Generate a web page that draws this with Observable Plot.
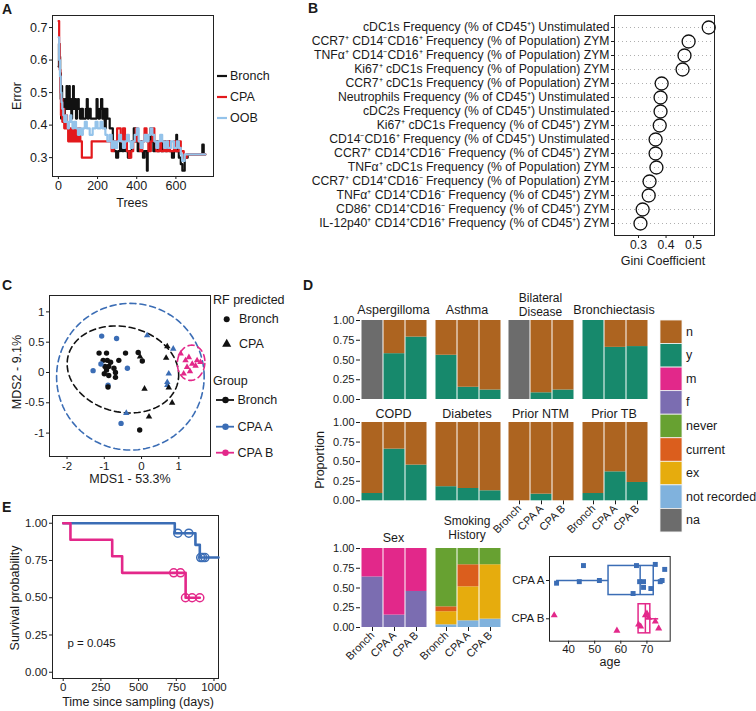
<!DOCTYPE html>
<html><head><meta charset="utf-8">
<script src="https://cdn.jsdelivr.net/npm/d3@7"></script>
<script src="https://cdn.jsdelivr.net/npm/@observablehq/plot@0.6"></script>
<style>
body{margin:0;background:#fff;}
#root{position:relative;width:756px;height:711px;overflow:hidden;background:#fff;font-family:"Liberation Sans",Arial,sans-serif;}
</style></head><body><div id="root"></div>
<script>
// ---------------- DATA ----------------
// Panel A: RF error rate vs number of trees (step breakpoints)
const treesBronch = [1,3,6,9,12,14,16,19,22,26,30,33,38,42,46,50,55,58,62,66,70,75,79,84,90,95,100,104,110,118,125,140,145,150,155,165,195,200,205,212,218,224,230,236,242,250,262,278,285,295,305,315,325,335,345,355,365,375,385,395,405,415,425,432,440,452,456,462,470,478,485,495,505,515,525,535,545,555,565,580,590,602,606,615,625,633,645,660,735,742,750];
const errBronch   = [0.58,0.65,0.61,0.56,0.48,0.42,0.52,0.45,0.48,0.45,0.42,0.48,0.45,0.52,0.45,0.48,0.52,0.45,0.48,0.42,0.45,0.52,0.45,0.48,0.42,0.45,0.48,0.45,0.42,0.45,0.42,0.45,0.48,0.42,0.45,0.42,0.48,0.45,0.42,0.45,0.48,0.42,0.45,0.39,0.45,0.42,0.39,0.35,0.32,0.30,0.32,0.35,0.32,0.35,0.32,0.30,0.32,0.35,0.39,0.35,0.32,0.35,0.32,0.30,0.32,0.26,0.32,0.35,0.39,0.35,0.32,0.35,0.32,0.35,0.32,0.35,0.32,0.35,0.32,0.30,0.32,0.37,0.32,0.30,0.28,0.26,0.30,0.31,0.34,0.31,0.31];
const treesCPA = [1,4,7,10,13,17,20,25,30,38,44,50,56,62,70,78,88,95,105,112,120,170,260,272,282,300,318,330,340,350,360,372,382,395,405,418,428,440,450,460,472,480,490,500,515,525,540,550,560,570,590,600,615,625,640,655,750];
const errCPA   = [0.72,0.65,0.57,0.50,0.43,0.48,0.41,0.45,0.39,0.43,0.39,0.35,0.39,0.35,0.39,0.35,0.39,0.35,0.39,0.35,0.30,0.35,0.35,0.32,0.35,0.39,0.35,0.39,0.35,0.32,0.30,0.32,0.35,0.39,0.35,0.32,0.35,0.39,0.35,0.32,0.35,0.39,0.35,0.32,0.35,0.32,0.35,0.32,0.35,0.32,0.35,0.32,0.35,0.32,0.30,0.31,0.31];
const treesOOB = [1,4,8,12,16,20,25,30,36,42,48,54,60,66,72,80,90,100,108,118,125,135,145,160,175,190,200,215,225,240,250,262,272,280,290,300,310,320,330,340,350,360,370,380,390,400,410,420,430,440,450,460,470,480,490,500,510,520,530,540,550,560,575,590,605,615,625,632,645,750];
const errOOB   = [0.67,0.60,0.55,0.50,0.47,0.45,0.43,0.41,0.43,0.41,0.39,0.41,0.43,0.41,0.39,0.41,0.39,0.37,0.39,0.37,0.39,0.41,0.39,0.37,0.39,0.41,0.39,0.41,0.39,0.37,0.35,0.37,0.33,0.35,0.33,0.35,0.37,0.35,0.33,0.35,0.37,0.35,0.33,0.35,0.37,0.39,0.35,0.33,0.35,0.37,0.35,0.37,0.39,0.37,0.35,0.33,0.35,0.37,0.35,0.33,0.35,0.33,0.35,0.33,0.35,0.33,0.31,0.29,0.31,0.31];
const errSeries = ["Bronch","CPA","OOB"];
const errColors = ["#111111","#e3191c","#94c3ea"];

// Panel B: Gini importance
const giniFeatures = [
"cDC1s Frequency (% of CD45⁺) Unstimulated",
"CCR7⁺ CD14⁻CD16⁺ Frequency (% of Population) ZYM",
"TNFα⁺ CD14⁻CD16⁺ Frequency (% of Population) ZYM",
"Ki67⁺ cDC1s Frequency (% of Population) ZYM",
"CCR7⁺ cDC1s Frequency (% of Population) ZYM",
"Neutrophils Frequency (% of CD45⁺) Unstimulated",
"cDC2s Frequency (% of CD45⁺) Unstimulated",
"Ki67⁺ cDC1s Frequency (% of CD45⁺) ZYM",
"CD14⁻CD16⁺ Frequency (% of CD45⁺) Unstimulated",
"CCR7⁺ CD14⁺CD16⁻ Frequency (% of CD45⁺) ZYM",
"TNFα⁺ cDC1s Frequency (% of Population) ZYM",
"CCR7⁺ CD14⁺CD16⁻ Frequency (% of Population) ZYM",
"TNFα⁺ CD14⁺CD16⁻ Frequency (% of CD45⁺) ZYM",
"CD86⁺ CD14⁺CD16⁻ Frequency (% of CD45⁺) ZYM",
"IL-12p40⁺ CD14⁺CD16⁺ Frequency (% of CD45⁺) ZYM"];
const giniValues = [0.555,0.482,0.467,0.460,0.384,0.380,0.380,0.377,0.362,0.362,0.365,0.340,0.337,0.315,0.307];
const giniTicks = [0.3,0.4,0.5];

// Panel C: MDS
const mdsX = [-1.14,-0.94,-0.43,-0.09,-1.03,-0.92,-0.83,-0.61,0.02,-0.98,-0.88,-0.94,-0.74,-1.00,-0.88,-0.70,-0.70,-0.05,
  -1.07,-0.67,-1.09,-1.30,-0.38,-0.90,-0.55,
  -0.90,
  0.15,0.85,0.73,0.69,0.69,-0.41,
  0.69,-0.04,0.66,0.08,0.73,0.82,0.20,
  1.05,1.18,1.27,1.36,1.49,1.58,1.22,1.13,1.45,1.30];
const mdsY = [0.32,0.32,0.32,0.33,0.20,0.20,0.17,0.20,0.19,0.10,0.10,0.04,0.07,-0.02,-0.05,0.00,-0.08,-0.95,
  0.60,0.56,0.14,0.03,0.07,-0.21,-0.84,
  -0.24,
  0.61,0.39,-0.02,-0.16,-0.21,-0.67,
  0.43,0.26,0.24,-0.27,-0.25,-0.50,-0.73,
  0.31,0.20,0.25,0.14,0.20,0.17,0.09,-0.02,0.11,0.02];
const mdsGroup = [...Array(18).fill("Bronch"), ...Array(7).fill("CPA A"), "Bronch", ...Array(6).fill("CPA A"), ...Array(7).fill("Bronch"), ...Array(10).fill("CPA B")];
const mdsPred = [...Array(26).fill("Bronch"), ...Array(23).fill("CPA")];
const groupNames = ["Bronch","CPA A","CPA B"];
const groupColors = ["#111111","#3b6db5","#e3288a"];
const ellGroup = ["CPA A","Bronch","CPA B"];
const ellCx = [-0.30,-0.50,1.33], ellCy = [-0.07,0.05,0.16];
const ellRx = [1.98,1.50,0.37], ellRy = [1.21,0.71,0.29], ellRot = [0,-0.08,0.1];

// Panel D: clinical characteristics (proportions)
const barGroups = ["Bronch","CPA A","CPA B"];
const condNames = ["Aspergilloma","Asthma","Bilateral Disease","Bronchiectasis","COPD","Diabetes","Prior NTM","Prior TB"];
const condYes = [[0,0.58,0.79],[0.56,0.155,0.12],[0,0.085,0.12],[1,0.66,0.67],[0.093,0.66,0.456],[0.18,0.157,0.128],[0,0.085,0],[0.093,0.37,0.234]];
const condNo  = [[0,0.42,0.21],[0.44,0.845,0.88],[0,0.915,0.88],[0,0.34,0.33],[0.907,0.34,0.544],[0.82,0.843,0.872],[1,0.915,1],[0.907,0.63,0.766]];
const condNA  = [[1,0,0],[0,0,0],[1,0,0],[0,0,0],[0,0,0],[0,0,0],[0,0,0],[0,0,0]];
const sexF = [0.64,0.157,0.456], sexM = [0.36,0.843,0.544];
const smokeNR = [0.034,0.085,0.106], smokeEx = [0.166,0.43,0.688], smokeCurrent = [0.062,0.279,0], smokeNever = [0.738,0.206,0.206];
const fillCats = ["n","y","m","f","never","current","ex","not recorded","na"];
const fillColors = ["#ad6420","#17896c","#e2288a","#7b6db1","#67a131","#db5e1d","#e6ac0d","#80b2dd","#6c6c6c"];

// Age box/jitter
const ageA  = [35.4,44.1,45.7,51.8,64.7,66.0,67.2,68.7,68.7,71.5,73.2,75.1,75.8,76.8];
const ageAy = [1.93,1.97,2.39,2.00,1.66,2.39,1.97,1.97,1.82,1.79,2.42,1.97,2.00,2.29];
const ageB  = [34.5,58.5,66.8,67.6,69.4,70.0,70.6,73.2,74.5];
const ageBy = [1.09,0.69,0.85,0.80,1.09,1.14,1.03,0.93,0.75];
const boxGroup = ["CPA A","CPA B"], boxPos = [2,1];
const boxQ1 = [55.3,66.8], boxMed = [67.4,69.4], boxQ3 = [72.6,71.3], boxLo = [35.4,66.8], boxHi = [76.8,74.5];

// Panel E: Kaplan-Meier
const kmTimeA = [0,740,877,906,1030], kmSurvA = [1,0.933,0.855,0.77,0.77];
const kmTimeB = [0,48,325,391,812,906], kmSurvB = [1,0.889,0.778,0.667,0.5,0.5];
const censTimeA = [760,833,912,925,940], censSurvA = [0.933,0.933,0.77,0.77,0.77];
const censTimeB = [733,778,811,855,906], censSurvB = [0.667,0.667,0.5,0.5,0.5];

// ---------------- HELPERS ----------------
const root = document.getElementById("root");
const FONT = '"Liberation Sans", Arial, Helvetica, sans-serif';
function chart(f, m, opts, fs = 11) {
  const axisDefaults = {tickSize:3, tickPadding:2, label:null};
  const el = Plot.plot({
    width: f.R - f.L + m[1] + m[3],
    height: f.B - f.T + m[0] + m[2],
    marginTop: m[0], marginRight: m[1], marginBottom: m[2], marginLeft: m[3],
    style: {background: "transparent", fontFamily: FONT, fontSize: fs + "px", color: "#1a1a1a", overflow: "visible"},
    ...opts,
    x: {...axisDefaults, ...opts.x},
    y: {...axisDefaults, ...opts.y}
  });
  el.style.position = "absolute";
  el.style.left = (f.L - m[3]) + "px";
  el.style.top = (f.T - m[0]) + "px";
  el.style.maxWidth = "none";
  root.appendChild(el);
  return el;
}
const frame = () => Plot.frame({stroke: "#222", strokeWidth: 1});

// ---------------- PANEL A ----------------
const errRows = [
  ...treesBronch.map((t,i)=>({tree:t, err:errBronch[i], series:"Bronch"})),
  ...treesCPA.map((t,i)=>({tree:t, err:errCPA[i], series:"CPA"})),
  ...treesOOB.map((t,i)=>({tree:t, err:errOOB[i], series:"OOB"}))
];
chart({L:52,T:15,R:213,B:176}, [5,5,35,40], {
  x: {domain:[-30,792], ticks:[0,200,400,600], tickFormat:d=>String(d)},
  y: {domain:[0.242,0.737], ticks:[0.3,0.4,0.5,0.6,0.7], tickFormat:d3.format(".1f")},
  color: {domain: errSeries, range: errColors},
  marks: [
    Plot.line(errRows, {x:"tree", y:"err", z:"series", stroke:"series", curve:"step-after", strokeWidth:2.2}),
    frame()
  ]
}, 12.5);

// ---------------- PANEL B ----------------
const giniRows = giniFeatures.map((f,i)=>({feature:f, gini:giniValues[i]}));
chart({L:614,T:15,R:714,B:235}, [5,5,25,262], {
  x: {domain:[0.2127,0.576], ticks:giniTicks, tickFormat:d3.format(".1f")},
  y: {type:"point", domain:giniFeatures, padding:0.62},
  marks: [
    Plot.ruleY(giniFeatures, {stroke:"#9a9a9a", strokeDasharray:"1,3", strokeWidth:0.8}),
    frame(),
    Plot.dot(giniRows, {x:"gini", y:"feature", r:6.5, stroke:"#111", strokeWidth:1.3, fill:"none"})
  ]
}, 12.2);

// ---------------- PANEL C ----------------
const mdsRows = mdsX.map((x,i)=>({x, y:mdsY[i], group:mdsGroup[i], pred:mdsPred[i]}));
const ellPts = ellGroup.flatMap((g,i)=> d3.range(0,121).map(k=>{
  const t = 2*Math.PI*k/120, c = Math.cos(t), s = Math.sin(t), a = ellRot[i];
  return {group:g, x: ellCx[i] + ellRx[i]*c*Math.cos(a) - ellRy[i]*s*Math.sin(a),
                   y: ellCy[i] + ellRx[i]*c*Math.sin(a) + ellRy[i]*s*Math.cos(a)};
}));
chart({L:49,T:295,R:210,B:456}, [5,5,25,40], {
  x: {domain:[-2.47,1.85], ticks:[-2,-1,0,1], tickFormat:d=>String(d)},
  y: {domain:[-1.386,1.27], ticks:[-1,-0.5,0,0.5,1], tickFormat:d=>String(d)},
  color: {domain: groupNames, range: groupColors},
  marks: [
    frame(),
    Plot.line(ellPts, {x:"x", y:"y", z:"group", stroke:"group", strokeDasharray:"6,4", strokeWidth:1.6}),
    Plot.dot(mdsRows.filter(d=>d.pred==="Bronch"), {x:"x", y:"y", fill:"group", r:2.7, symbol:"circle"}),
    Plot.dot(mdsRows.filter(d=>d.pred==="CPA"), {x:"x", y:"y", fill:"group", r:2.4, symbol:"triangle"})
  ]
}, 11.5);

// ---------------- PANEL D ----------------
function stackRows(parts) { // parts: [{cat, values}] bottom to top
  const rows = [];
  for (const p of parts) barGroups.forEach((g,i)=>rows.push({group:g, cat:p.cat, value:p.values[i]}));
  return rows;
}
const colX = [360, 433.5, 507, 580.5];
const rowT = [320, 421.7, 547.7];
const rowH = [79, 78.3, 79];
function barPanel(col, row, rows, showX) {
  const L = colX[col], T = rowT[row];
  chart({L, T, R:L+67, B:T+rowH[row]}, [2,2,48,40], {
    x: {type:"band", domain:barGroups, padding:0, axis: showX ? "bottom" : null, tickRotate:-45, tickSize:4},
    y: {domain:[0,1], ticks:[0,0.25,0.5,0.75,1], tickFormat:d3.format(".2f"), axis: col===0 ? "left" : null, tickSize:4},
    color: {domain: fillCats, range: fillColors},
    marks: [Plot.barY(rows, {x:"group", y:"value", fill:"cat", insetLeft:0.5, insetRight:0.5})]
  }, 11);
}
condNames.forEach((name,i)=>{
  const rows = stackRows([{cat:"na", values:condNA[i]}, {cat:"y", values:condYes[i]}, {cat:"n", values:condNo[i]}]);
  barPanel(i%4, Math.floor(i/4), rows, i>=6);
});
barPanel(0, 2, stackRows([{cat:"f", values:sexF}, {cat:"m", values:sexM}]), true);
barPanel(1, 2, stackRows([{cat:"not recorded", values:smokeNR}, {cat:"ex", values:smokeEx}, {cat:"current", values:smokeCurrent}, {cat:"never", values:smokeNever}]), true);

// Age plot
const ageRowsA = ageA.map((a,i)=>({age:a, y:ageAy[i], group:"CPA A"}));
const ageRowsB = ageB.map((a,i)=>({age:a, y:ageBy[i], group:"CPA B"}));
const boxRows = boxGroup.map((g,i)=>({group:g, pos:boxPos[i], q1:boxQ1[i], med:boxMed[i], q3:boxQ3[i], lo:boxLo[i], hi:boxHi[i]}));
chart({L:549.3,T:556,R:670,B:640.7}, [5,5,30,45], {
  x: {domain:[32.7,78.9], ticks:[40,50,60,70], tickPadding:1},
  y: {domain:[0.415,2.627], ticks:[1,2], tickFormat:d=> d===2 ? "CPA A" : "CPA B"},
  color: {domain: groupNames, range: groupColors},
  marks: [
    frame(),
    Plot.ruleY(boxRows, {x1:"lo", x2:"q1", y:"pos", stroke:"group", strokeWidth:1.5}),
    Plot.ruleY(boxRows, {x1:"q3", x2:"hi", y:"pos", stroke:"group", strokeWidth:1.5}),
    Plot.rect(boxRows, {x1:"q1", x2:"q3", y1:d=>d.pos-0.38, y2:d=>d.pos+0.38, stroke:"group", strokeWidth:1.5, fill:"none"}),
    Plot.ruleX(boxRows, {x:"med", y1:d=>d.pos-0.38, y2:d=>d.pos+0.38, stroke:"group", strokeWidth:1.5}),
    Plot.dot(ageRowsA, {x:"age", y:"y", fill:"group", symbol:"square", r:2.8}),
    Plot.dot(ageRowsB, {x:"age", y:"y", fill:"group", symbol:"triangle", r:2.6})
  ]
}, 11.5);

// ---------------- PANEL E ----------------
const kmRows = [
  ...kmTimeA.map((t,i)=>({t, s:kmSurvA[i], group:"CPA A"})),
  ...kmTimeB.map((t,i)=>({t, s:kmSurvB[i], group:"CPA B"}))
];
const censRows = [
  ...censTimeA.map((t,i)=>({t, s:censSurvA[i], group:"CPA A"})),
  ...censTimeB.map((t,i)=>({t, s:censSurvB[i], group:"CPA B"}))
];
chart({L:52,T:515,R:218,B:678}, [5,5,25,45], {
  x: {domain:[-71,1030], ticks:[0,250,500,750,1000], tickFormat:d=>String(d), tickPadding:1},
  y: {domain:[-0.042,1.052], ticks:[0,0.25,0.5,0.75,1], tickFormat:d3.format(".2f")},
  color: {domain: groupNames, range: groupColors},
  marks: [
    frame(),
    Plot.line(kmRows, {x:"t", y:"s", z:"group", stroke:"group", curve:"step-after", strokeWidth:2.6}),
    Plot.dot(censRows, {x:"t", y:"s", stroke:"group", r:4, strokeWidth:1.5, fill:"none"}),
    Plot.text(["p = 0.045"], {x:28, y:0.195, textAnchor:"start", fontSize:11.5, fill:"#1a1a1a"})
  ]
}, 11.5);

// ---------------- OVERLAY TEXT & LEGENDS ----------------
const ov = d3.select(root).append("svg")
  .attr("width",756).attr("height",711)
  .style("position","absolute").style("left","0px").style("top","0px").style("pointer-events","none")
  .style("font-family", FONT).attr("fill","#1a1a1a");
function txt(x, y, s, o = {}) {
  const t = ov.append("text").attr("x",x).attr("y",y).attr("font-size",o.size||12)
    .attr("text-anchor",o.anchor||"start").text(s);
  if (o.weight) t.attr("font-weight",o.weight);
  if (o.rotate) t.attr("transform",`rotate(${o.rotate},${x},${y})`);
  if (o.middle) t.attr("dominant-baseline","central");
  return t;
}
// Panel letters
txt(2,13.5,"A",{size:14,weight:"bold"});
txt(308,12.5,"B",{size:14,weight:"bold"});
txt(2,290,"C",{size:14,weight:"bold"});
txt(303,290,"D",{size:14,weight:"bold"});
txt(2,512,"E",{size:14,weight:"bold"});
// Axis titles
txt(17,96,"Error",{anchor:"middle",rotate:-90,middle:true,size:12.5});
txt(132,207,"Trees",{anchor:"middle",size:12.5});
txt(663,265,"Gini Coefficient",{anchor:"middle",size:12.5});
txt(17,372,"MDS2 - 9.1%",{anchor:"middle",rotate:-90,middle:true,size:12.5});
txt(130,483,"MDS1 - 53.3%",{anchor:"middle",size:12.5});
txt(15,598,"Survival probability",{anchor:"middle",rotate:-90,middle:true,size:12.5});
txt(138,706,"Time since sampling (days)",{anchor:"middle",size:12.5});
txt(320,460,"Proportion",{anchor:"middle",rotate:-90,middle:true,size:12.5});
txt(610,666,"age",{anchor:"middle",size:12.5});
// Legend A
errSeries.forEach((s,i)=>{
  const y = 76 + i*21;
  ov.append("line").attr("x1",217).attr("x2",227).attr("y1",y).attr("y2",y).attr("stroke",errColors[i]).attr("stroke-width",2.2);
  txt(230,y,s,{middle:true,size:12.5});
});
// Legend C
txt(213,303.5,"RF predicted",{size:12.5});
ov.append("circle").attr("cx",226.7).attr("cy",319.3).attr("r",3).attr("fill","#111");
txt(239,319.3,"Bronch",{middle:true,size:12.5});
ov.append("path").attr("d",d3.symbol(d3.symbolTriangle, 36)()).attr("transform","translate(226.7,344)").attr("fill","#111");
txt(239,344,"CPA",{middle:true,size:12.5});
txt(213,385,"Group",{size:12.5});
groupNames.forEach((g,i)=>{
  const y = [400,426.7,452.7][i];
  ov.append("line").attr("x1",216).attr("x2",234).attr("y1",y).attr("y2",y).attr("stroke",groupColors[i]).attr("stroke-width",1.8);
  ov.append("circle").attr("cx",225.5).attr("cy",y).attr("r",3.2).attr("fill",groupColors[i]);
  txt(237.5,y,g,{middle:true,size:12.5});
});
// Strip titles D
const stripY = [314, 418];
condNames.forEach((name,i)=>{
  const cx = colX[i%4] + 33.5, row = Math.floor(i/4);
  if (name === "Bilateral Disease") {
    txt(cx,302,"Bilateral",{anchor:"middle",size:12});
    txt(cx,315.5,"Disease",{anchor:"middle",size:12});
  } else txt(cx,stripY[row],name,{anchor:"middle",size:12.5});
});
txt(colX[0]+33.5,541.5,"Sex",{anchor:"middle",size:12.5});
txt(colX[1]+33.5,525,"Smoking",{anchor:"middle",size:12});
txt(colX[1]+33.5,538.5,"History",{anchor:"middle",size:12});
// Legend D
fillCats.forEach((c,i)=>{
  const y0 = 320 + i*23.55;
  ov.append("rect").attr("x",660).attr("y",y0).attr("width",22).attr("height",23.55)
    .attr("fill",fillColors[i]).attr("stroke","#f4f4f4").attr("stroke-width",0.8);
  txt(686,y0+11.8,c,{middle:true,size:12.5});
});
</script></body></html>
